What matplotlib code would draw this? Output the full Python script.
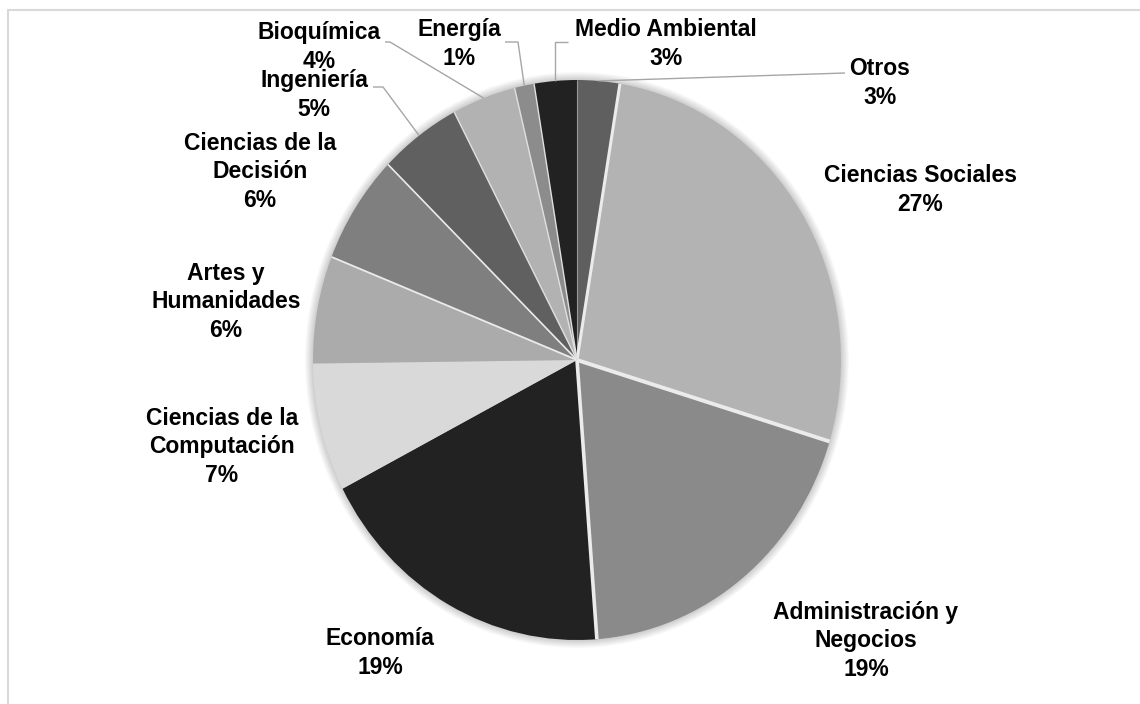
import numpy as np
import matplotlib
matplotlib.use("Agg")
import matplotlib.pyplot as plt
from matplotlib.patches import Ellipse

# ---- data (clockwise from 12 o'clock) ----
categories = ["Otros", "Ciencias Sociales", "Administración y\nNegocios", "Economía",
              "Ciencias de la\nComputación", "Artes y\nHumanidades", "Ciencias de la\nDecisión",
              "Ingeniería", "Bioquímica", "Energía", "Medio Ambiental"]
shares = [2.6, 27.1, 19.1, 18.6, 7.4, 6.2, 6.3, 5.0, 3.9, 1.2, 2.6]
colors = ["#5f5f5f", "#b3b3b3", "#8a8a8a", "#222222", "#d9d9d9", "#ababab",
          "#7f7f7f", "#606060", "#b2b2b2", "#8c8c8c", "#222222"]

W, H = 1140, 704
CX, CY = 577, 360      # pie centre (pixels from top-left)
RX, RY = 264, 280      # pie radii (pixels)

fig = plt.figure(figsize=(W / 100, H / 100), dpi=100)
fig.patch.set_facecolor("white")
ax = fig.add_axes([0, 0, 1, 1])

def px(x, y):
    """pixel (from top-left) -> data coords"""
    return (x - CX) / RX, (CY - y) / RY

# soft shadow around the pie
for k in range(8, 0, -1):
    ax.add_patch(Ellipse((0, 0), 2 * (1 + k / RX), 2 * (1 + k / RY),
                         facecolor="#000000", alpha=0.022, edgecolor="none", zorder=0))

wedges, _ = ax.pie(shares, colors=colors, startangle=90, counterclock=False, radius=1,
                   wedgeprops=dict(edgecolor="none", linewidth=0, zorder=2))

# separator lines at the start boundary of each wedge (light gaps)
sep_color = ["#9a9a9a", "#ebebeb", "#ebebeb", "#ebebeb", None, None,
             "#ebebeb", "#ebebeb", "#e0e0e0", "#e0e0e0", "#e0e0e0"]
sep_width = [0.8, 2.2, 2.8, 2.6, 0, 0, 1.3, 1.2, 1.0, 1.0, 1.0]
for w, c, lw in zip(wedges, sep_color, sep_width):
    if c is None:
        continue
    t = np.deg2rad(w.theta2)
    ax.plot([0, np.cos(t)], [0, np.sin(t)], color=c, linewidth=lw, zorder=2.5,
            solid_capstyle="butt")

ax.set_aspect("auto")
ax.set_xlim(-CX / RX, (W - CX) / RX)
ax.set_ylim(-(H - CY) / RY, CY / RY)
ax.axis("off")

# label positions (pixels)
label_pos = [(880, 83), (920, 190), (866, 641), (380, 653), (222, 447), (226, 302),
             (260, 172), (314, 95), (319, 47), (459, 44), (666, 44)]
for name, val, (lx, ly) in zip(categories, shares, label_pos):
    x, y = px(lx, ly)
    ax.text(x, y, f"{name}\n{val:.0f}%", ha="center", va="center", ma="center",
            fontsize=16.5, fontweight="bold", family="Liberation Sans", color="#000000",
            linespacing=1.32, zorder=5)

# leader lines: start at the rim at each wedge's mid-angle
def rim_point(w):
    mid = np.deg2rad((w.theta1 + w.theta2) / 2)
    return np.cos(mid), np.sin(mid)

leaders = {0: [(845, 73)],
           10: ["v", (568, 42)],
           9: [(518, 42), (505, 42)],
           8: [(390, 42), (385, 42)],
           7: [(383, 87), (373, 87)]}
for idx, pts in leaders.items():
    sx, sy = rim_point(wedges[idx])
    xs, ys = [sx], [sy]
    for p in pts:
        if p == "v":
            xs.append(sx)
            ys.append(px(0, 42)[1])
        else:
            dx, dy = px(*p)
            xs.append(dx)
            ys.append(dy)
    ax.plot(xs, ys, color="#a6a6a6", linewidth=1.0, zorder=3, solid_capstyle="butt")

# chart-area border (top and left visible)
fig.add_artist(plt.Line2D([8 / W, 1], [1 - 10 / H, 1 - 10 / H], transform=fig.transFigure,
                          color="#d9d9d9", linewidth=1.5))
fig.add_artist(plt.Line2D([8 / W, 8 / W], [0, 1 - 10 / H], transform=fig.transFigure,
                          color="#d9d9d9", linewidth=1.5))

fig.savefig("out.png", dpi=100, facecolor="white")
